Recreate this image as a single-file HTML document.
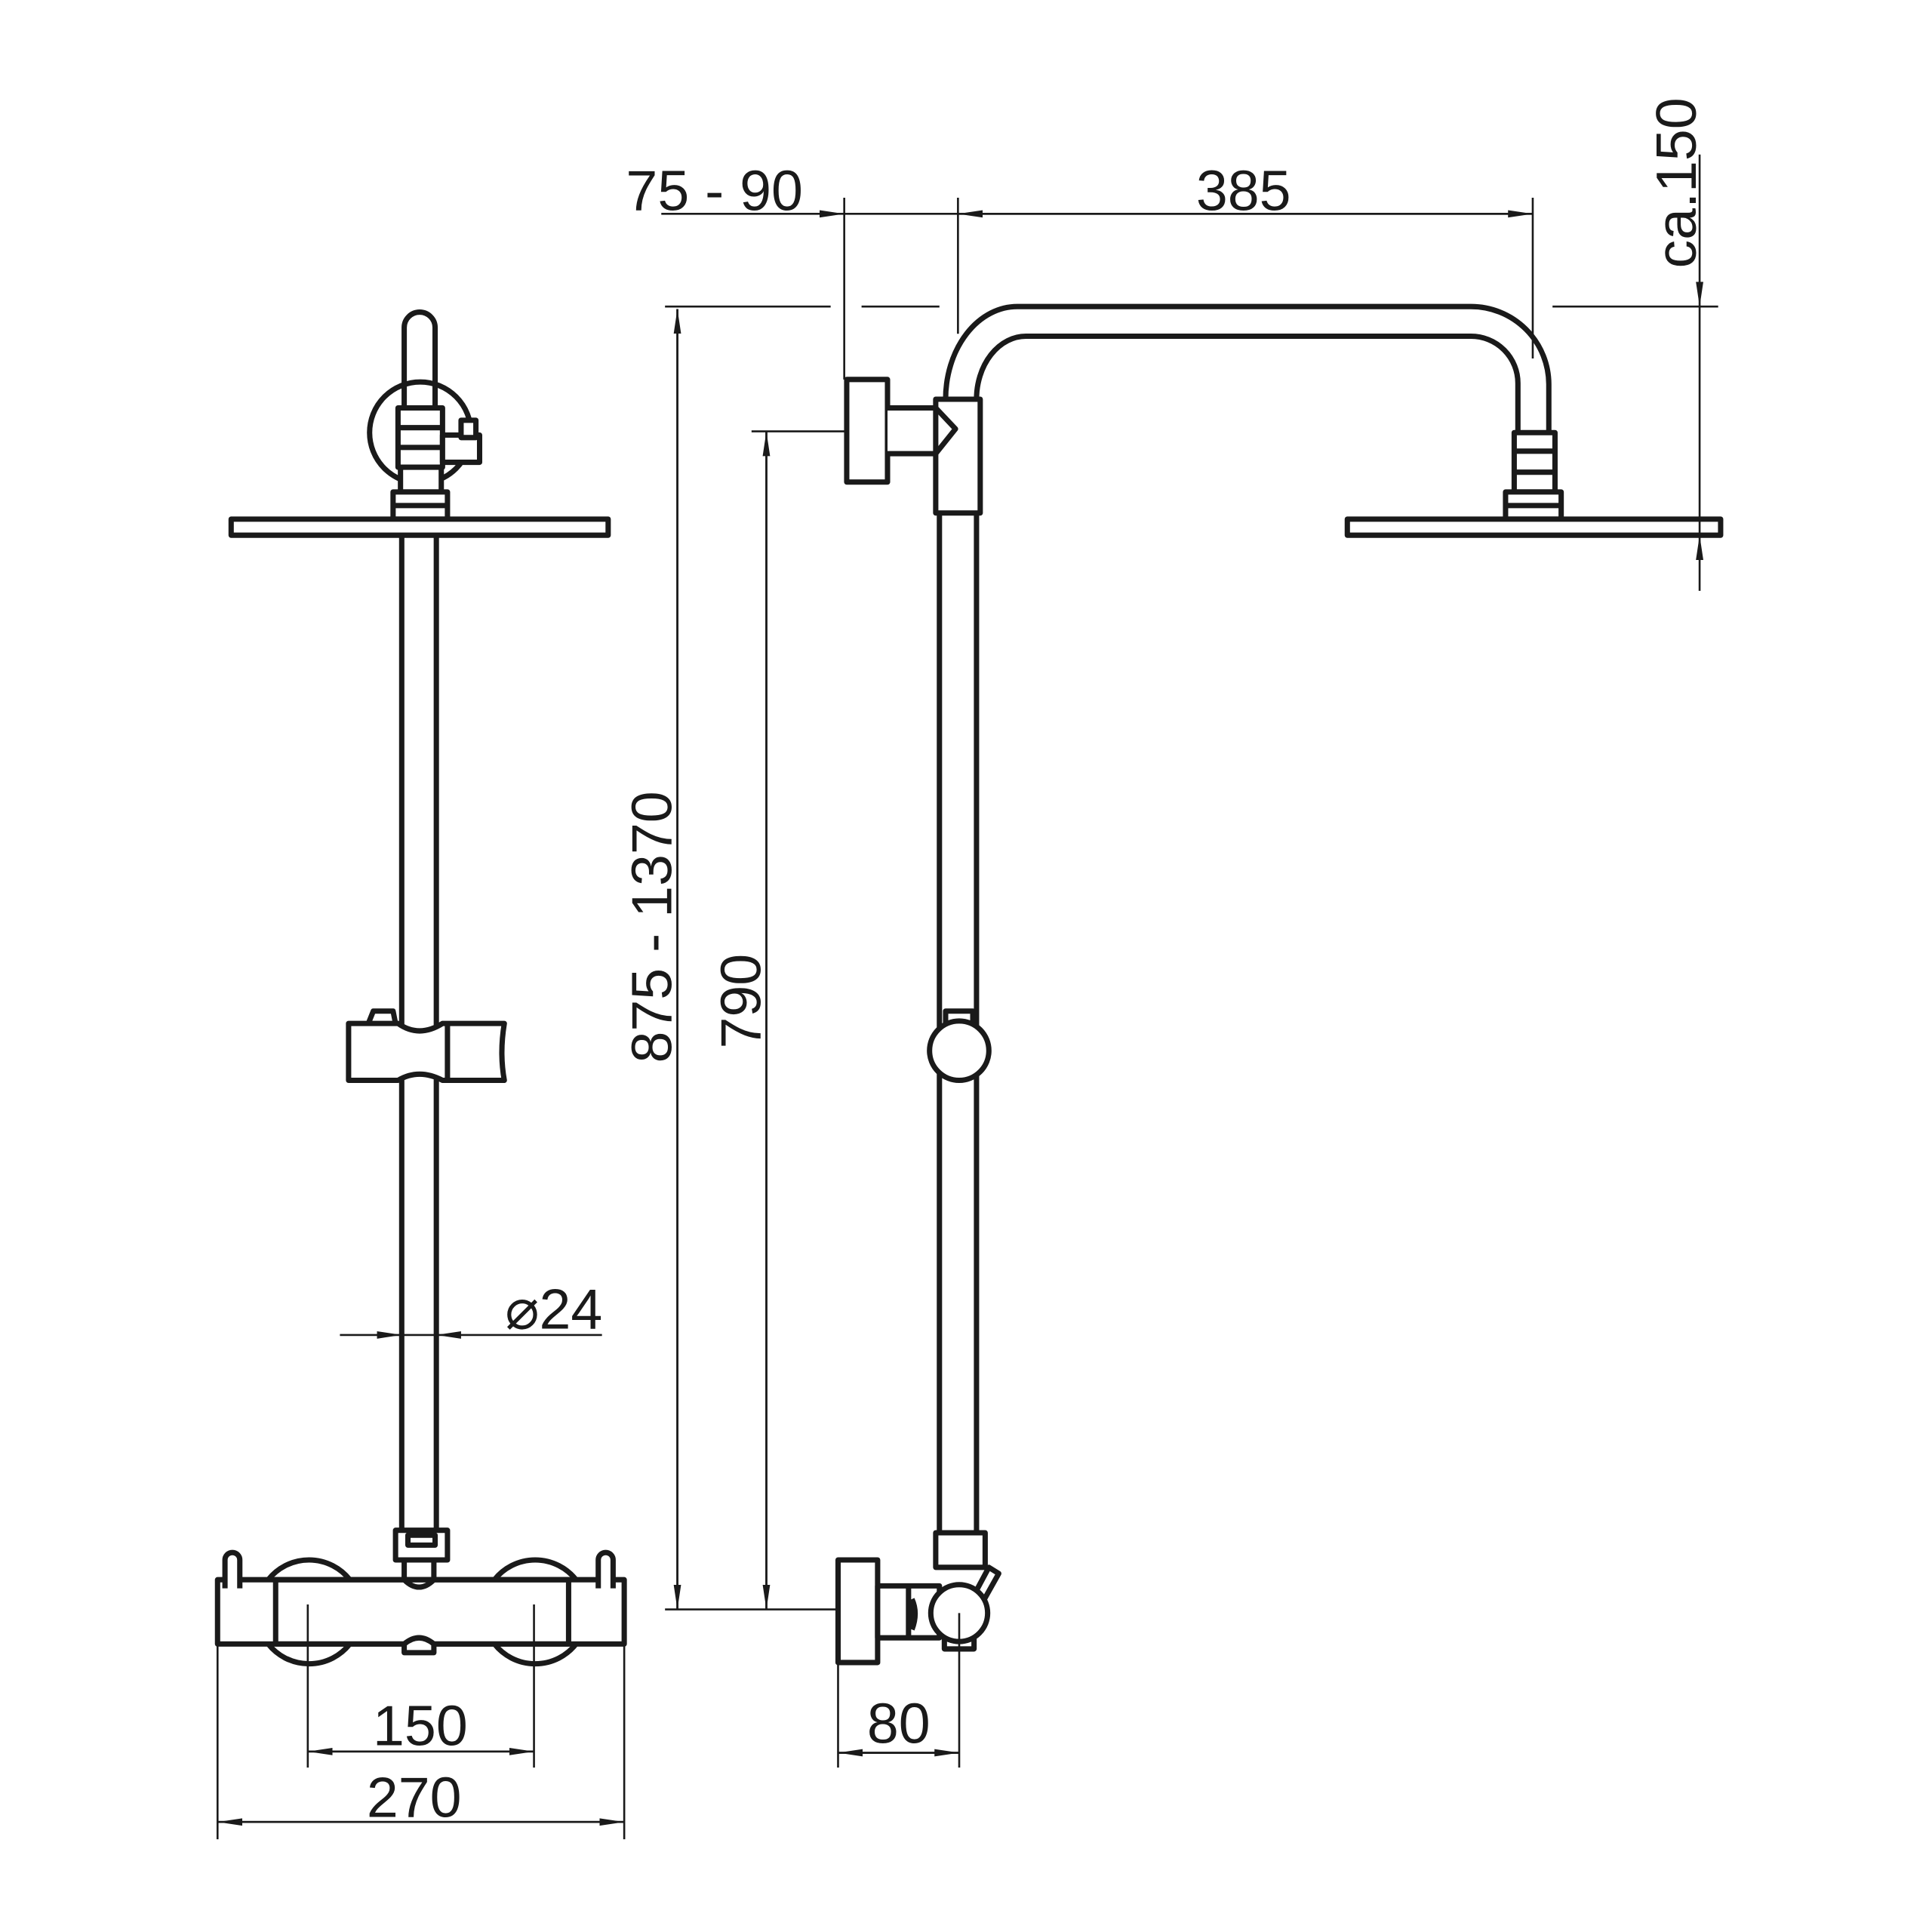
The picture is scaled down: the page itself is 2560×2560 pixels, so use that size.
<!DOCTYPE html>
<html><head><meta charset="utf-8"><style>html,body{margin:0;padding:0;background:#fff}svg{display:block}</style></head>
<body>
<svg width="2560" height="2560" viewBox="0 0 1563 1563" xmlns="http://www.w3.org/2000/svg">
<defs>
<marker id="a" viewBox="0 0 20 8" refX="20" refY="4" markerWidth="20" markerHeight="8" markerUnits="userSpaceOnUse" orient="auto"><path d="M0,1 L20,4 L0,7 Z" fill="#1a1a1a"/></marker>
</defs>
<g fill="none" stroke="#1a1a1a" stroke-width="4.3" stroke-linejoin="round">
<!-- LEFT VIEW -->
<circle cx="340" cy="350" r="41"/>
<path d="M327,350 V265 A12.5,12.5 0 0 1 352,265 V350"/>
<rect x="322" y="330" width="36" height="48" fill="#fff"/>
<line x1="322" y1="346" x2="358" y2="346"/><line x1="322" y1="362" x2="358" y2="362"/>
<rect x="358" y="352" width="30" height="22" fill="#fff"/>
<rect x="373" y="340" width="12" height="14" fill="#fff"/>
<rect x="324" y="378" width="33" height="20" fill="#fff"/>
<rect x="318" y="398" width="44" height="22" fill="#fff"/>
<line x1="318" y1="409" x2="362" y2="409"/>
<rect x="187" y="420" width="305" height="13" fill="#fff"/>
<line x1="325" y1="433" x2="325" y2="1240"/><line x1="353" y1="433" x2="353" y2="1240"/>
<!-- slider -->
<path d="M282,828 H322 Q339,840 358,828 H408 Q404,852 408,874 H358 Q339,864 322,874 H282 Z" fill="#fff"/>
<line x1="362" y1="828" x2="362" y2="874"/>
<path d="M298,828 L302,818 H318 L320,828"/>
<!-- bottom connector -->
<rect x="320" y="1238" width="42" height="24" fill="#fff"/>
<rect x="330" y="1242" width="22" height="8"/>
<path d="M327,1262 V1278 Q339,1290 351,1278 V1262"/>
<!-- knobs -->
<path d="M217,1278 A42,42 0 0 1 283,1278"/><path d="M217,1330 A42,42 0 0 0 283,1330"/>
<path d="M400,1278 A42,42 0 0 1 466,1278"/><path d="M400,1330 A42,42 0 0 0 466,1330"/>
<rect x="176" y="1278" width="329" height="52"/>
<rect x="223" y="1278" width="237" height="52"/>
<path d="M327,1330 Q339,1320 351,1330 V1337 H327 Z" fill="#fff"/>
<path d="M182,1285 V1262 A6,6 0 0 1 194,1262 V1285" fill="#fff"/>
<path d="M484,1285 V1262 A6,6 0 0 1 496,1262 V1285" fill="#fff"/>
<!-- RIGHT VIEW -->
<path d="M765,323 A58,75 0 0 1 823,248 H1190 A63,63 0 0 1 1253,311 V350"/>
<path d="M790,323 A40,51 0 0 1 830,272 H1190 A38,38 0 0 1 1228,310 V350"/>
<rect x="685" y="307" width="33" height="83" fill="#fff"/>
<path d="M718,330 H757 L773,347 L757,367 H718" fill="#fff"/>
<rect x="757" y="323" width="36" height="92"/>
<line x1="760" y1="415" x2="760" y2="1240"/><line x1="790" y1="415" x2="790" y2="1240"/>
<rect x="1225" y="350" width="33" height="48" fill="#fff"/>
<line x1="1225" y1="365" x2="1258" y2="365"/><line x1="1225" y1="382" x2="1258" y2="382"/>
<rect x="1218" y="398" width="45" height="22" fill="#fff"/>
<line x1="1218" y1="409" x2="1263" y2="409"/>
<rect x="1090" y="420" width="302" height="13" fill="#fff"/>
<!-- mid knob -->
<rect x="765" y="818" width="22" height="10" fill="#fff"/>
<circle cx="776" cy="850" r="24" fill="#fff"/>
<!-- bottom right -->
<rect x="757" y="1240" width="40" height="28" fill="#fff"/>
<path d="M785,1296 L800,1268 L808,1273 L794,1298" fill="#fff"/>
<rect x="678" y="1262" width="32" height="83" fill="#fff"/>
<rect x="710" y="1283" width="50" height="42" fill="#fff"/>
<line x1="735" y1="1283" x2="735" y2="1325"/>
<path d="M737,1294 Q742,1305 737,1318" stroke-width="6"/>
<rect x="764" y="1318" width="24" height="16" fill="#fff"/>
<circle cx="776" cy="1305" r="23" fill="#fff"/>
</g>
<!-- DIMENSIONS -->
<g fill="none" stroke="#1a1a1a" stroke-width="1.6">
<line x1="538" y1="248" x2="672" y2="248"/><line x1="697" y1="248" x2="760" y2="248"/><line x1="1256" y1="248" x2="1390" y2="248"/>
<line x1="548" y1="1302" x2="548" y2="250" marker-end="url(#a)"/><line x1="548" y1="250" x2="548" y2="1302" marker-end="url(#a)"/>
<line x1="538" y1="1302" x2="678" y2="1302"/>
<line x1="608" y1="349" x2="685" y2="349"/>
<line x1="620" y1="1302" x2="620" y2="349" marker-end="url(#a)"/><line x1="620" y1="349" x2="620" y2="1302" marker-end="url(#a)"/>
<line x1="683" y1="160" x2="683" y2="307"/><line x1="775" y1="160" x2="775" y2="270"/><line x1="1240" y1="160" x2="1240" y2="290"/>
<line x1="535" y1="173" x2="683" y2="173" marker-end="url(#a)"/><line x1="683" y1="173" x2="775" y2="173"/>
<line x1="1240" y1="173" x2="775" y2="173" marker-end="url(#a)"/><line x1="775" y1="173" x2="1240" y2="173" marker-end="url(#a)"/>
<line x1="1375" y1="125" x2="1375" y2="248" marker-end="url(#a)"/>
<line x1="1375" y1="478" x2="1375" y2="433" marker-end="url(#a)"/>
<line x1="1375" y1="248" x2="1375" y2="433"/>
<line x1="275" y1="1080" x2="325" y2="1080" marker-end="url(#a)"/>
<line x1="487" y1="1080" x2="353" y2="1080" marker-end="url(#a)"/>
<line x1="325" y1="1080" x2="353" y2="1080"/>
<line x1="249" y1="1298" x2="249" y2="1430"/><line x1="432" y1="1298" x2="432" y2="1430"/>
<line x1="432" y1="1417" x2="249" y2="1417" marker-end="url(#a)"/><line x1="249" y1="1417" x2="432" y2="1417" marker-end="url(#a)"/>
<line x1="176" y1="1330" x2="176" y2="1488"/><line x1="505" y1="1330" x2="505" y2="1488"/>
<line x1="505" y1="1474" x2="176" y2="1474" marker-end="url(#a)"/><line x1="176" y1="1474" x2="505" y2="1474" marker-end="url(#a)"/>
<line x1="678" y1="1345" x2="678" y2="1430"/><line x1="776" y1="1305" x2="776" y2="1430"/>
<line x1="776" y1="1418" x2="678" y2="1418" marker-end="url(#a)"/><line x1="678" y1="1418" x2="776" y2="1418" marker-end="url(#a)"/>
</g>
<g font-family="'Liberation Sans', 'DejaVu Sans', sans-serif" font-size="46" fill="#1a1a1a" text-anchor="middle">
<text x="578" y="170">75  - 90</text>
<text x="1006" y="170">385</text>
<text x="340" y="1412">150</text>
<text x="335" y="1470">270</text>
<text x="727" y="1410">80</text>
<text x="448" y="1075">⌀24</text>
<text transform="translate(543,750) rotate(-90)">875 - 1370</text>
<text transform="translate(615,810) rotate(-90)">790</text>
<text transform="translate(1372,148) rotate(-90)">ca.150</text>
</g>
</svg>
</body></html>
